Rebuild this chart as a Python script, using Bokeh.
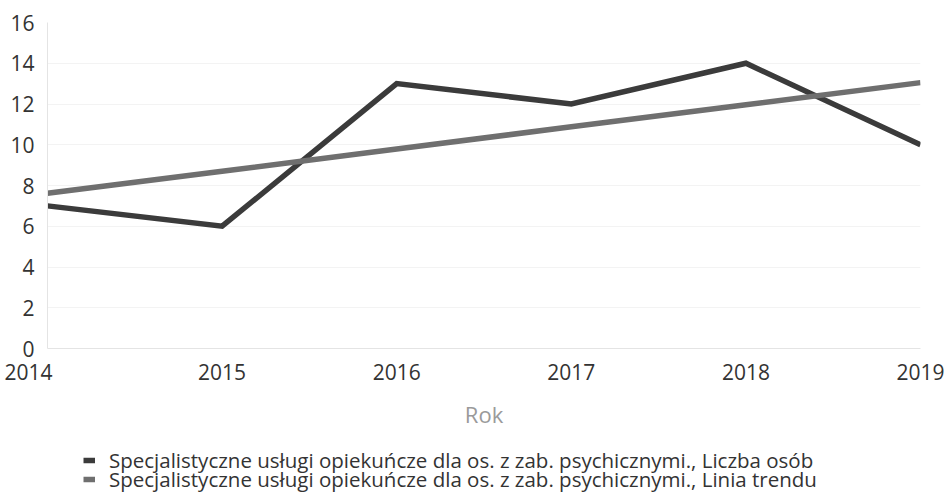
from bokeh.plotting import figure
from bokeh.models import Range1d, FixedTicker, Legend, LegendItem
from bokeh.layouts import column
from bokeh.embed import file_html
from bokeh.resources import INLINE

years = [2014, 2015, 2016, 2017, 2018, 2019]
liczba_osob = [7, 6, 13, 12, 14, 10]
linia_trendu = [7.62, 8.70, 9.79, 10.88, 11.96, 13.05]
y_ticks = [0, 2, 4, 6, 8, 10, 12, 14, 16]
series_names = [
    "Specjalistyczne usługi opiekuńcze dla os. z zab. psychicznymi., Liczba osób",
    "Specjalistyczne usługi opiekuńcze dla os. z zab. psychicznymi., Linia trendu",
]
x_title = "Rok"

FONT = "Open Sans"
C_MAIN = "#3b3b3b"
C_TREND = "#6f6f6f"

# ---------------- chart ----------------
p = figure(width=949, height=440, output_backend="svg", toolbar_location=None,
           x_range=Range1d(years[0], years[-1]), y_range=Range1d(y_ticks[0], y_ticks[-1]),
           min_border_left=47, min_border_right=29, min_border_top=22, min_border_bottom=92)
p.outline_line_color = None
p.background_fill_color = "white"

p.line(years, liczba_osob, line_color=C_MAIN, line_width=5.5, line_join="miter")
p.line(years, linia_trendu, line_color=C_TREND, line_width=5.5, line_join="miter")

p.yaxis.ticker = FixedTicker(ticks=y_ticks)
p.xaxis.ticker = FixedTicker(ticks=years)
# the first year label sits to the left of its tick (right edge at the axis start)
p.xaxis.major_label_overrides = {years[0]: str(years[0]) + "\u00a0" * 7}
for ax in (p.xaxis, p.yaxis):
    ax.major_tick_line_color = None
    ax.minor_tick_line_color = None
    ax.major_tick_out = 0
    ax.major_tick_in = 0
    ax.minor_tick_out = 0
    ax.minor_tick_in = 0
    ax.axis_line_color = "#e4e4e4"
    ax.major_label_text_font = FONT
    ax.major_label_text_font_size = "21px"
    ax.major_label_text_color = "#333333"
p.yaxis.major_label_standoff = 13
p.xaxis.major_label_standoff = 9
p.xaxis.axis_label = x_title
p.xaxis.axis_label_text_font = FONT
p.xaxis.axis_label_text_font_style = "normal"
p.xaxis.axis_label_text_font_size = "22px"
p.xaxis.axis_label_text_color = "#9a9a9a"
p.xaxis.axis_label_standoff = 10

p.xgrid.grid_line_color = None
p.ygrid.grid_line_color = "#f3f3f3"
p.ygrid.grid_line_width = 1

# ---------------- legend strip ----------------
lg = figure(width=949, height=55, output_backend="svg", toolbar_location=None,
            x_range=Range1d(0, 1), y_range=Range1d(0, 1),
            min_border_left=0, min_border_right=0, min_border_top=0, min_border_bottom=0)
lg.outline_line_color = None
lg.xaxis.visible = False
lg.yaxis.visible = False
lg.xgrid.visible = False
lg.ygrid.visible = False
k1 = lg.line(years, liczba_osob, line_color=C_MAIN, line_width=5.5, visible=False)
k2 = lg.line(years, linia_trendu, line_color=C_TREND, line_width=5.5, visible=False)


def make_legend(label, renderer, loc):
    leg = Legend(items=[LegendItem(label=label, renderers=[renderer])],
                 orientation="vertical", location=loc)
    leg.label_text_font = FONT
    leg.label_text_font_size = "20.5px"
    leg.label_text_color = "#333333"
    leg.glyph_width = 12
    leg.glyph_height = 20
    leg.label_height = 20
    leg.spacing = 0
    leg.label_standoff = 14
    leg.padding = 0
    leg.margin = 0
    leg.border_line_color = None
    leg.background_fill_alpha = 0
    leg.inactive_fill_alpha = 0
    leg.click_policy = "none"
    return leg


lg.add_layout(make_legend(series_names[0], k1, (36, 21)), "center")
lg.add_layout(make_legend(series_names[1], k2, (36, 2)), "center")

layout = column(p, lg, spacing=0)
open("out.html", "w").write(file_html(layout, INLINE))
